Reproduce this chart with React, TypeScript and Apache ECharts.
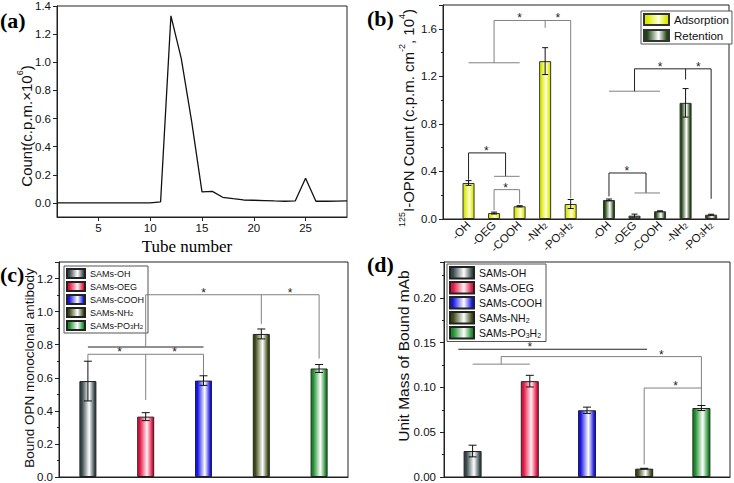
import React, { useEffect, useRef } from 'react';
import * as echarts from 'echarts';

// ---------- data ----------
const tubeNumbers = [1, 2, 3, 4, 5, 6, 7, 8, 9, 10, 11, 12, 13, 14, 15, 16, 17, 18, 19, 20, 21, 22, 23, 24, 25, 26, 27, 28, 29];
const tubeCounts = [0, 0, 0, 0, 0, 0, 0, 0, 0, 0.001, 0.007, 1.33, 1.026, 0.58, 0.078, 0.082, 0.04, 0.03, 0.021, 0.019, 0.017, 0.014, 0.012, 0.014, 0.176, 0.012, 0.012, 0.013, 0.015];
const tubeTicks = [5, 10, 15, 20, 25];
const countTicks = [0, 0.2, 0.4, 0.6, 0.8, 1.0, 1.2, 1.4];

const groupLabels = ['-OH', '-OEG', '-COOH', '-NH{s|2}', '-PO{s|3}H{s|2}', '-OH', '-OEG', '-COOH', '-NH{s|2}', '-PO{s|3}H{s|2}'];
const adsPos = [1, 2, 3, 4, 5];
const retPos = [6.5, 7.5, 8.5, 9.5, 10.5];
const adsValues = [0.303, 0.05, 0.107, 1.328, 0.126];
const adsErr = [0.02, 0.008, 0.005, 0.113, 0.038];
const retValues = [0.16, 0.028, 0.065, 0.977, 0.036];
const retErr = [0.008, 0.013, 0.004, 0.12, 0.004];

const samNames = ['SAMs-OH', 'SAMs-OEG', 'SAMs-COOH', 'SAMs-NH2', 'SAMs-PO3H2'];
const samLegend = ['SAMs-OH', 'SAMs-OEG', 'SAMs-COOH', 'SAMs-NH{s|2}', 'SAMs-PO{s|3}H{s|2}'];
const boundValues = [0.58, 0.365, 0.583, 0.865, 0.656];
const boundErr = [0.12, 0.024, 0.029, 0.03, 0.024];
const massValues = [0.029, 0.107, 0.0745, 0.0093, 0.077];
const massErr = [0.0065, 0.0065, 0.0035, 0.0004, 0.0028];

// significance brackets: [points, dark?]
const bracketsB: [number[][], boolean][] = [
  [[[1, 1.314], [3, 1.314]], false],
  [[[2, 1.314], [2, 1.67], [5, 1.67], [5, 0.175]], false],
  [[[4, 1.67], [4, 1.608]], false],
  [[[1, 0.33], [1, 0.556], [2.45, 0.556], [2.45, 0.359]], true],
  [[[2, 0.359], [3, 0.359]], false],
  [[[2, 0.073], [2, 0.247], [3, 0.247], [3, 0.129]], false],
  [[[6.5, 1.075], [8.5, 1.075]], false],
  [[[7.5, 1.075], [7.5, 1.263], [10.5, 1.263], [10.5, 0.17]], true],
  [[[9.5, 1.263], [9.5, 1.173]], true],
  [[[6.5, 0.19], [6.5, 0.387], [7.95, 0.387], [7.95, 0.219]], true],
  [[[7.5, 0.219], [8.5, 0.219]], false],
];
const starsB = [[3.0, 1.67], [4.5, 1.67], [1.7, 0.556], [2.45, 0.247], [8.5, 1.263], [10.0, 1.263], [7.2, 0.387]];

const bracketsC: [number[][], boolean][] = [
  [[[0, 0.70], [0, 0.742], [2, 0.742], [2, 0.61]], false],
  [[[1, 0.742], [1, 0.466]], false],
  [[[0, 0.786], [2, 0.786]], true],
  [[[1, 0.786], [1, 1.102], [4, 1.102], [4, 0.716]], false],
  [[[3, 1.102], [3, 0.926]], false],
];
const starsC = [[0.55, 0.742], [1.5, 0.742], [2.0, 1.102], [3.5, 1.102]];

const bracketsD: [number[][], boolean][] = [
  [[[-0.25, 0.1426], [3.05, 0.1426]], true],
  [[[0, 0.126], [1, 0.126]], false],
  [[[0.5, 0.126], [0.5, 0.1344], [4, 0.1344], [4, 0.0796]], false],
  [[[3, 0.014], [3, 0.0993], [4, 0.0993]], false],
];
const starsD = [[1.0, 0.1426], [3.3, 0.1344], [3.55, 0.0993]];

// ---------- styles ----------
const SANS = '"Liberation Sans", Arial, sans-serif';
const SERIF = '"Liberation Serif", "Times New Roman", serif';
const INK = '#111';
const GRAY = '#808080';

const grad = (edge: string, mid: string) => ({
  type: 'linear', x: 0, y: 0, x2: 1, y2: 0,
  colorStops: [
    { offset: 0, color: edge },
    { offset: 0.12, color: edge },
    { offset: 0.58, color: mid },
    { offset: 0.92, color: edge },
    { offset: 1, color: edge },
  ],
});
const adsColor = grad('#dbe800', '#fdffd8');
const retColor = grad('#1f4410', '#ffffff');
const samColors = [
  grad('#34454a', '#ffffff'),
  grad('#e0103f', '#fff0f4'),
  grad('#1414e6', '#ffffff'),
  grad('#394712', '#ffffff'),
  grad('#178a26', '#ffffff'),
];

function toPx(api: any, x: number, y: number) {
  const base = api.coord([0, y]);
  const unit = api.size([1, 0])[0];
  return [base[0] + x * unit, base[1]];
}

function errorSeries(ax: number, data: number[][], cap: number) {
  return {
    type: 'custom', xAxisIndex: ax, yAxisIndex: ax, z: 10, silent: true,
    data,
    renderItem: (params: any, api: any) => {
      const x = api.value(0), y = api.value(1), e = api.value(2);
      const t = toPx(api, x, y + e);
      const b = toPx(api, x, y - e);
      const st = { stroke: INK, lineWidth: 1 };
      return {
        type: 'group', children: [
          { type: 'line', shape: { x1: t[0], y1: t[1], x2: b[0], y2: b[1] }, style: st },
          { type: 'line', shape: { x1: t[0] - cap, y1: t[1], x2: t[0] + cap, y2: t[1] }, style: st },
          { type: 'line', shape: { x1: b[0] - cap, y1: b[1], x2: b[0] + cap, y2: b[1] }, style: st },
        ],
      };
    },
  };
}

function bracketSeries(ax: number, brackets: [number[][], boolean][]) {
  return {
    type: 'custom', xAxisIndex: ax, yAxisIndex: ax, z: 9, silent: true,
    data: brackets.map(() => [0, 0]),
    renderItem: (params: any, api: any) => {
      const [pts, dark] = brackets[params.dataIndex];
      return {
        type: 'polyline',
        shape: { points: pts.map((p) => toPx(api, p[0], p[1])) },
        style: { stroke: dark ? '#222' : GRAY, lineWidth: 1, fill: 'none' },
      };
    },
  };
}

function starSeries(ax: number, stars: number[][]) {
  return {
    type: 'custom', xAxisIndex: ax, yAxisIndex: ax, z: 11, silent: true,
    data: stars.map(() => [0, 0]),
    renderItem: (params: any, api: any) => {
      const s = stars[params.dataIndex];
      const p = toPx(api, s[0], s[1]);
      return {
        type: 'text', x: p[0], y: p[1] - 2,
        style: { text: '*', font: `12px ${SANS}`, fill: '#222', align: 'center', verticalAlign: 'middle' },
      };
    },
  };
}

const isMult = (v: number, step: number) => Math.abs(v / step - Math.round(v / step)) < 1e-6;

const tickLabel = { fontFamily: SANS, fontSize: 11.5, color: INK };
const axisLine = { show: true, onZero: false, lineStyle: { color: '#222', width: 1 } };

function buildOption() {
  return {
    animation: false,
    backgroundColor: '#fff',
    grid: [
      { left: 57, top: 5, width: 290, height: 212, show: true, borderColor: '#222', borderWidth: 1 },
      { left: 443, top: 5, width: 286, height: 214, show: true, borderColor: '#222', borderWidth: 1 },
      { left: 59, top: 262, width: 289, height: 217, show: true, borderColor: '#222', borderWidth: 1 },
      { left: 444, top: 262, width: 286, height: 216, show: true, borderColor: '#222', borderWidth: 1 },
    ],
    xAxis: [
      {
        gridIndex: 0, type: 'value', min: 1, max: 29, axisLine, splitLine: { show: false },
        axisTick: { show: true, length: 4, customValues: tubeTicks, lineStyle: { color: '#222' } },
        axisLabel: { ...tickLabel, margin: 5, customValues: tubeTicks, formatter: (v: number) => String(v) },
      },
      {
        gridIndex: 1, type: 'value', min: 0, max: 11.2, axisLine, splitLine: { show: false },
        axisTick: { show: false },
        axisLabel: {
          fontFamily: SANS, fontSize: 11.5, color: INK, rotate: 45, margin: 4,
          customValues: [...adsPos, ...retPos],
          formatter: (v: number) => {
            const all = [...adsPos, ...retPos];
            const i = all.findIndex((p) => Math.abs(p - v) < 1e-6);
            return i >= 0 ? groupLabels[i] : '';
          },
          rich: { s: { fontSize: 7.5, fontFamily: SANS, color: INK, verticalAlign: 'bottom', lineHeight: 8 } },
        },
      },
      {
        gridIndex: 2, type: 'category', data: samNames, axisLine, axisTick: { show: false }, axisLabel: { show: false },
      },
      {
        gridIndex: 3, type: 'category', data: samNames, axisLine, axisTick: { show: false }, axisLabel: { show: false },
      },
    ],
    yAxis: [
      {
        gridIndex: 0, type: 'value', min: -0.1, max: 1.4, axisLine, splitLine: { show: false },
        axisTick: { show: true, length: 4, customValues: countTicks, lineStyle: { color: '#222' } },
        axisLabel: { ...tickLabel, margin: 6, customValues: countTicks, formatter: (v: number) => v.toFixed(1) },
      },
      {
        gridIndex: 1, type: 'value', min: 0, max: 1.8, interval: 0.4, axisLine, splitLine: { show: false },
        axisTick: { show: true, length: 4, lineStyle: { color: '#222' } },
        minorTick: { show: true, splitNumber: 2, length: 2, lineStyle: { color: '#222' } },
        axisLabel: { ...tickLabel, margin: 6, formatter: (v: number) => (isMult(v, 0.4) ? v.toFixed(1) : '') },
      },
      {
        gridIndex: 2, type: 'value', min: 0, max: 1.3, interval: 0.2, axisLine, splitLine: { show: false },
        axisTick: { show: true, length: 4, lineStyle: { color: '#222' } },
        minorTick: { show: true, splitNumber: 2, length: 2, lineStyle: { color: '#222' } },
        axisLabel: { ...tickLabel, margin: 6, formatter: (v: number) => (isMult(v, 0.2) ? v.toFixed(1) : '') },
      },
      {
        gridIndex: 3, type: 'value', min: 0, max: 0.24, interval: 0.05, axisLine, splitLine: { show: false },
        axisTick: { show: true, length: 4, lineStyle: { color: '#222' } },
        minorTick: { show: true, splitNumber: 2, length: 2, lineStyle: { color: '#222' } },
        axisLabel: { ...tickLabel, margin: 8, formatter: (v: number) => (isMult(v, 0.05) ? v.toFixed(2) : '') },
      },
    ],
    legend: [
      {
        data: ['Adsorption', 'Retention'], orient: 'vertical', left: 641, top: 11,
        itemWidth: 25, itemHeight: 11, itemGap: 3, padding: [2, 3, 2, 2], icon: 'rect',
        borderColor: '#555', borderWidth: 1, backgroundColor: '#fff', selectedMode: false,
        textStyle: { fontFamily: SANS, fontSize: 11.5, color: INK, lineHeight: 11 },
      },
      {
        data: samNames, orient: 'vertical', left: 64, top: 266,
        itemWidth: 18, itemHeight: 9, itemGap: 2, padding: [2, 4, 2, 2], icon: 'rect',
        borderColor: '#555', borderWidth: 1, backgroundColor: '#fff', selectedMode: false,
        formatter: (name: string) => samLegend[samNames.indexOf(name)],
        textStyle: {
          fontFamily: SANS, fontSize: 9, color: INK, lineHeight: 9,
          rich: { s: { fontSize: 6, fontFamily: SANS, color: INK, verticalAlign: 'bottom', lineHeight: 6 } },
        },
      },
      {
        data: samNames, orient: 'vertical', left: 447, top: 264,
        itemWidth: 24, itemHeight: 11.5, itemGap: 1.5, padding: [2, 4, 2, 2], icon: 'rect',
        borderColor: '#555', borderWidth: 1, backgroundColor: '#fff', selectedMode: false,
        formatter: (name: string) => samLegend[samNames.indexOf(name)],
        textStyle: {
          fontFamily: SANS, fontSize: 10.5, color: INK, lineHeight: 11.5,
          rich: { s: { fontSize: 7, fontFamily: SANS, color: INK, verticalAlign: 'bottom', lineHeight: 7 } },
        },
      },
    ],
    series: [
      {
        type: 'line', xAxisIndex: 0, yAxisIndex: 0, showSymbol: false, silent: true,
        data: tubeNumbers.map((t, i) => [t, tubeCounts[i]]),
        lineStyle: { color: INK, width: 1.3 },
      },
      {
        type: 'bar', name: 'Adsorption', xAxisIndex: 1, yAxisIndex: 1, barWidth: 12, barGap: '-100%',
        data: adsPos.map((p, i) => [p, adsValues[i]]),
        itemStyle: { color: adsColor, borderColor: '#333', borderWidth: 1 },
      },
      {
        type: 'bar', name: 'Retention', xAxisIndex: 1, yAxisIndex: 1, barWidth: 12, barGap: '-100%',
        data: retPos.map((p, i) => [p, retValues[i]]),
        itemStyle: { color: retColor, borderColor: '#333', borderWidth: 1 },
      },
      ...samNames.map((n, i) => ({
        type: 'bar', name: n, xAxisIndex: 2, yAxisIndex: 2, barWidth: 17, barGap: '-100%',
        data: boundValues.map((v, j) => (j === i ? v : '-')),
        itemStyle: { color: samColors[i], borderColor: '#222', borderWidth: 1 },
      })),
      ...samNames.map((n, i) => ({
        type: 'bar', name: n, xAxisIndex: 3, yAxisIndex: 3, barWidth: 18, barGap: '-100%',
        data: massValues.map((v, j) => (j === i ? v : '-')),
        itemStyle: { color: samColors[i], borderColor: '#222', borderWidth: 1 },
      })),
      errorSeries(1, [...adsPos.map((p, i) => [p, adsValues[i], adsErr[i]]), ...retPos.map((p, i) => [p, retValues[i], retErr[i]])], 3),
      errorSeries(2, boundValues.map((v, i) => [i, v, boundErr[i]]), 4),
      errorSeries(3, massValues.map((v, i) => [i, v, massErr[i]]), 4),
      bracketSeries(1, bracketsB),
      bracketSeries(2, bracketsC),
      bracketSeries(3, bracketsD),
      starSeries(1, starsB),
      starSeries(2, starsC),
      starSeries(3, starsD),
    ],
    graphic: [
      { type: 'text', x: 0, y: 20, style: { text: '(a)', font: `bold 22px ${SERIF}`, fill: '#000', verticalAlign: 'middle' } },
      { type: 'text', x: 367, y: 18, style: { text: '(b)', font: `bold 22px ${SERIF}`, fill: '#000', verticalAlign: 'middle' } },
      { type: 'text', x: 0, y: 274, style: { text: '(c)', font: `bold 22px ${SERIF}`, fill: '#000', verticalAlign: 'middle' } },
      { type: 'text', x: 367, y: 264, style: { text: '(d)', font: `bold 22px ${SERIF}`, fill: '#000', verticalAlign: 'middle' } },
      { type: 'text', x: 187, y: 246, style: { text: 'Tube number', font: `17px ${SERIF}`, fill: '#000', align: 'center', verticalAlign: 'middle' } },
      {
        type: 'text', x: 26, y: 126, rotation: Math.PI / 2,
        style: {
          text: '{n|Count(c.p.m.×10}{p|6}{n|)}', align: 'center', verticalAlign: 'middle',
          rich: {
            n: { fontFamily: SANS, fontSize: 15, fill: INK, lineHeight: 22 },
            p: { fontFamily: SANS, fontSize: 9, fill: INK, lineHeight: 11, verticalAlign: 'top' },
          },
        },
      },
      {
        type: 'text', x: 408, y: 118, rotation: Math.PI / 2,
        style: {
          text: '{p|125}{n|I-OPN Count (c.p.m. cm}{p|-2}{n|, 10}{p|4}{n|)}', align: 'center', verticalAlign: 'middle',
          rich: {
            n: { fontFamily: SANS, fontSize: 15, fill: INK, lineHeight: 22 },
            p: { fontFamily: SANS, fontSize: 9, fill: INK, lineHeight: 11, verticalAlign: 'top' },
          },
        },
      },
      {
        type: 'text', x: 29, y: 368, rotation: Math.PI / 2,
        style: { text: 'Bound OPN monoclonal antibody', font: `13.5px ${SANS}`, fill: INK, align: 'center', verticalAlign: 'middle' },
      },
      {
        type: 'text', x: 403, y: 356, rotation: Math.PI / 2,
        style: { text: 'Unit Mass of Bound mAb', font: `15.5px ${SANS}`, fill: INK, align: 'center', verticalAlign: 'middle' },
      },
    ],
  };
}

export default function App() {
  const ref = useRef<HTMLDivElement>(null);
  useEffect(() => {
    if (!ref.current) return;
    const chart = echarts.init(ref.current, undefined, { renderer: 'svg' });
    chart.setOption(buildOption() as any);
    return () => chart.dispose();
  }, []);
  return <div ref={ref} style={{ position: 'absolute', left: 0, top: 0, width: 734, height: 483 }} />;
}
